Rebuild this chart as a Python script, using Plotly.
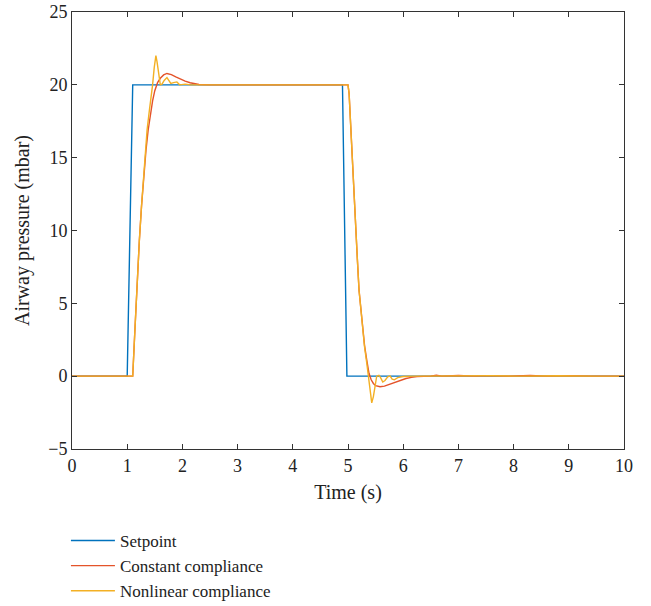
import plotly.graph_objects as go

# setpoint
t_set = [0, 1.0, 1.1, 4.9, 4.98, 10]
p_set = [0, 0, 20, 20, 0, 0]

# constant compliance
t_const = [0, 1.10, 1.14, 1.18, 1.22, 1.26, 1.30, 1.34, 1.38, 1.42, 1.46, 1.50,
           1.55, 1.60, 1.66, 1.72, 1.80, 1.88, 1.96, 2.05, 2.14, 2.22, 2.30, 2.5,
           5.0, 5.02, 5.05, 5.07, 5.10, 5.13, 5.17, 5.20, 5.26, 5.30, 5.34, 5.38,
           5.42, 5.46, 5.50, 5.58, 5.66, 5.75, 5.85, 5.95, 6.05, 6.15, 6.25, 6.5,
           6.6, 6.7, 7.0, 7.3, 7.5, 7.9, 8.3, 8.6, 9.0, 9.4, 10]
p_const = [0, 0, 3.2, 6.6, 9.3, 11.7, 13.8, 15.5, 16.9, 18.0, 18.9, 19.6,
           20.15, 20.45, 20.68, 20.78, 20.7, 20.55, 20.4, 20.25, 20.14, 20.07, 20.02, 20.0,
           20.0, 19.4, 17.1, 15.2, 12.5, 10.25, 8.0, 5.9, 3.4, 2.1, 1.1, 0.2,
           -0.25, -0.5, -0.65, -0.73, -0.68, -0.55, -0.4, -0.27, -0.16, -0.08, -0.03, 0.0,
           0.06, 0.0, 0.05, 0.0, 0.04, 0.0, 0.05, 0.0, 0.04, 0.0, 0.0]

# nonlinear compliance
t_nonlin = [0, 1.10, 1.14, 1.18, 1.22, 1.26, 1.29, 1.33, 1.36, 1.40, 1.43, 1.46,
            1.49, 1.52, 1.54, 1.57, 1.60, 1.63, 1.67, 1.72, 1.76, 1.79, 1.84, 1.90,
            1.95, 2.05, 2.15, 5.0, 5.02, 5.05, 5.07, 5.10, 5.13, 5.17, 5.20, 5.26,
            5.30, 5.34, 5.37, 5.40, 5.43, 5.46, 5.49, 5.52, 5.56, 5.59, 5.63, 5.67,
            5.72, 5.76, 5.80, 5.84, 5.90, 6.0, 6.2, 6.8, 7.2, 7.6, 8.1, 8.8, 9.5, 10]
p_nonlin = [0, 0, 3.2, 6.6, 9.3, 11.7, 13.45, 15.5, 16.9, 18.2, 19.0, 20.0,
            21.2, 22.0, 21.6, 20.6, 20.0, 20.05, 20.3, 20.5, 20.3, 20.1, 20.15, 20.2,
            20.0, 20.05, 20.0, 20.0, 19.4, 17.1, 15.2, 12.5, 10.25, 8.0, 5.9, 3.4,
            2.0, 0.9, 0.0, -1.2, -1.83, -1.4, -0.5, 0.0, 0.05, -0.1, -0.4, -0.3,
            -0.05, 0.02, -0.2, -0.25, -0.1, -0.02, 0.0, 0.03, 0.0, 0.03, 0.0, 0.03, 0.0, 0.0]

font = "Liberation Serif, Times New Roman, serif"
ink = "#222222"

fig = go.Figure()
fig.add_trace(go.Scatter(x=t_set, y=p_set, mode="lines", name="Setpoint",
                         line=dict(color="#0072BD", width=1.4)))
fig.add_trace(go.Scatter(x=t_const, y=p_const, mode="lines", name="Constant compliance",
                         line=dict(color="#E4532A", width=1.4)))
fig.add_trace(go.Scatter(x=t_nonlin, y=p_nonlin, mode="lines", name="Nonlinear compliance",
                         line=dict(color="#F3B024", width=1.4)))

axis_style = dict(showline=True, linecolor="#333333", linewidth=1, mirror="ticks",
                  ticks="inside", ticklen=5, tickcolor="#333333", showgrid=False,
                  zeroline=False, automargin=False,
                  tickfont=dict(family=font, size=18, color=ink))

fig.update_xaxes(range=[0, 10], dtick=1, title=dict(text="Time (s)", standoff=10,
                 font=dict(family=font, size=20, color=ink)), **axis_style)
fig.update_yaxes(range=[-5, 25], dtick=5, title=dict(text="Airway pressure (mbar)", standoff=13,
                 font=dict(family=font, size=20, color=ink)), **axis_style)

fig.update_layout(
    width=651, height=606,
    paper_bgcolor="white", plot_bgcolor="white",
    margin=dict(l=72, r=27, t=12, b=157),
    font=dict(family=font, size=18, color=ink),
    legend=dict(x=-0.011, y=0.137, xref="paper", yref="container",
                xanchor="left", yanchor="top", orientation="v",
                itemwidth=44, bgcolor="rgba(0,0,0,0)",
                font=dict(family=font, size=17, color=ink), tracegroupgap=0),
    showlegend=True,
)

# drop the default 8px body margin so the figure fills the window
fig.write_html("out.html", config={"displayModeBar": False},
               post_script="document.body.style.margin='0';")
